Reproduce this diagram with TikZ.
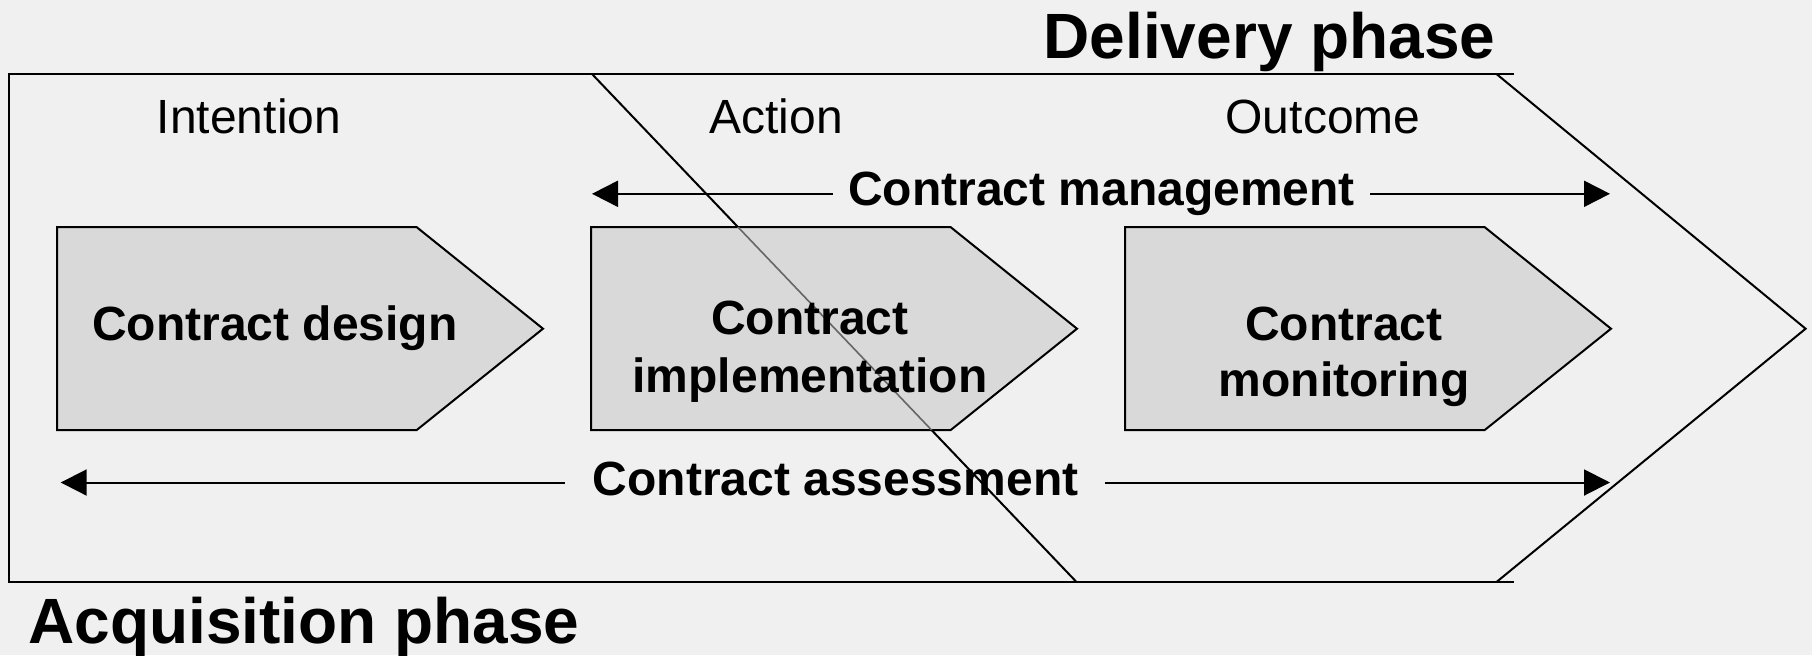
\documentclass[tikz,border=0pt]{standalone}
\usepackage{fontspec}
\setmainfont{Liberation Sans}
\usetikzlibrary{arrows.meta}
\definecolor{bg}{HTML}{F0F0F0}
\definecolor{boxfill}{HTML}{D9D9D9}
\definecolor{hidden}{HTML}{666666}
\begin{document}
\begin{tikzpicture}[x=0.5pt,y=-0.5pt,line join=miter,
  frame/.style={line width=1pt,draw=black},
  stage/.style={line width=1pt,draw=black,fill=boxfill},
  lbl/.style={anchor=base,inner sep=0pt,font=\fontsize{24}{29}\selectfont},
  blbl/.style={anchor=base,inner sep=0pt,align=center,font=\fontsize{24}{28.8}\selectfont\bfseries},
  phase/.style={anchor=base,inner sep=0pt,font=\fontsize{32}{38}\selectfont\bfseries},
  arr/.style={line width=1pt,-{Triangle[length=13pt,width=13pt]}}]
\fill[bg] (0,0) rectangle (1812,655);
\useasboundingbox (0,0) rectangle (1812,655);
% phase frames
\draw[frame] (1514,74) -- (8.7,74) -- (8.7,582) -- (1514,582);
\draw[frame] (592,74) -- (1076.5,582);
\draw[frame] (1496.5,74) -- (1805.6,328.7) -- (1496.5,582);
% stages
\foreach \L/\nm in {57/s1,591/s2,1125/s3}{
  \draw[stage] (\L,227) -- ++(359.5,0) -- ++(126.5,101.7) -- ++(-126.5,101.5) -- (\L,430.2) -- cycle;
}
\begin{scope}
  \clip (591,227) -- ++(359.5,0) -- ++(126.5,101.7) -- ++(-126.5,101.5) -- (591,430.2) -- cycle;
  \draw[line width=0.8pt,draw=hidden] (592,74) -- (1076.5,582);
\end{scope}
% labels
\node[lbl] (intention) at (249,133) {Intention};
\node[lbl] (action) at (776,133) {Action};
\node[lbl] (outcome) at (1323,133) {Outcome};
\node[phase] (delivery) at (1269.5,58.5) {Delivery phase};
\node[phase] (acquisition) at (304,643.5) {Acquisition phase};
\node[blbl] (design) at (275,340.4) {Contract design};
\node[blbl,font=\fontsize{24}{29.3}\selectfont\bfseries] (impl) at (810,392.6) {Contract\\implementation};
\node[blbl,font=\fontsize{24}{28.2}\selectfont\bfseries] (monit) at (1344,396.8) {Contract\\monitoring};
\node[blbl] (mgmt) at (1101.5,205.5) {Contract management};
\node[blbl] (assess) at (835.7,495) {Contract assessment};
% arrows
\coordinate (mgmtL) at (592,193.8);
\coordinate (mgmtR) at (1610,193.8);
\coordinate (assessL) at (60.7,482.5);
\coordinate (assessR) at (1610,482.5);
\draw[arr] (mgmt.west |- mgmtL) ++(-15,0) -- (mgmtL);
\draw[arr] (mgmt.east |- mgmtR) ++(15,0) -- (mgmtR);
\draw[arr] (assess.west |- assessL) ++(-28,0) -- (assessL);
\draw[arr] (assess.east |- assessR) ++(26,0) -- (assessR);
\end{tikzpicture}
\end{document}
